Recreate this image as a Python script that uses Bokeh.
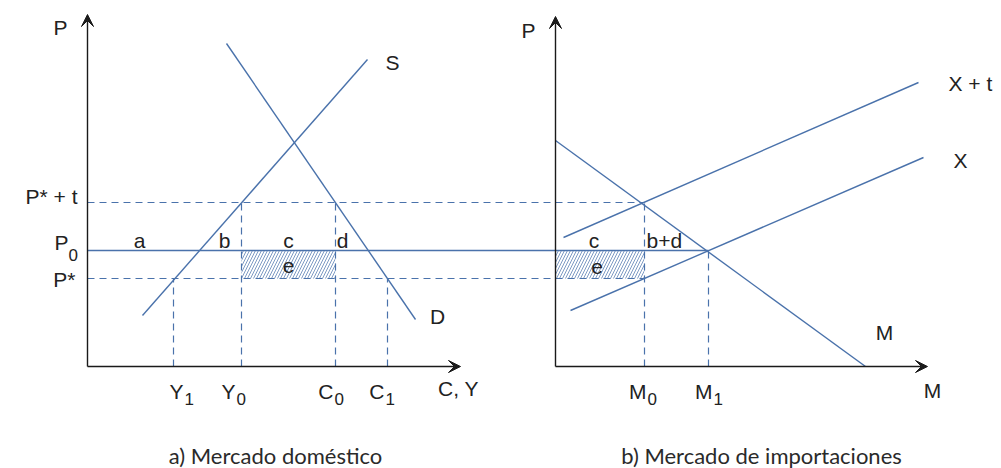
from bokeh.plotting import figure
from bokeh.models import Range1d, Arrow, VeeHead
from bokeh.core.properties import value
from bokeh.embed import file_html
from bokeh.resources import INLINE

# ---------------- data ----------------
# shared price levels
P_star = 88
P_0 = 116
P_star_t = 164

# a) domestic market: supply and demand segments (quantity, price)
supply_q = [55, 280]
supply_p = [51, 307]
demand_q = [139, 328]
demand_p = [323, 47]
Y1, Y0, C0, C1 = 86, 154, 248, 300

# b) import market: import demand M, export supply X and X + t
imp_m = [0, 310]
imp_p = [226, 0]
xt_m = [8, 363]
xt_p = [129, 284]
x_m = [15, 368]
x_p = [56, 209]
M0, M1 = 89, 153

left_ticks = [Y1, Y0, C0, C1]
left_tick_main = ["Y", "Y", "C", "C"]
left_tick_sub = ["1", "0", "0", "1"]
right_ticks = [M0, M1]
right_tick_main = ["M", "M"]
right_tick_sub = ["0", "1"]

caption_a = "a) Mercado doméstico"
caption_b = "b) Mercado de importaciones"

# ---------------- layout ----------------
R0 = 468          # horizontal origin of the right panel
XLEN = 373        # x axis length
YLEN = 352        # y axis length

BLUE = "#4a72ab"
BLACK = "#1a1a1a"
FONT = value("Liberation Sans")
DASH = "7 5"

p = figure(width=1001, height=468, x_range=Range1d(-87, 914), y_range=Range1d(-102, 366),
           output_backend="svg", toolbar_location=None, min_border=0,
           x_axis_type=None, y_axis_type=None)
p.grid.visible = False
p.outline_line_color = None
p.background_fill_color = "white"

# hatched areas (e)
p.quad(left=[Y0, R0], right=[C0, R0 + M0], bottom=[P_star, P_star], top=[P_0, P_0],
       fill_color=None, line_color=None, hatch_pattern="/", hatch_color=BLUE,
       hatch_scale=6, hatch_weight=0.8, hatch_alpha=0.9)

# horizontal reference lines
p.line([0, R0 + M0], [P_star_t, P_star_t], line_color=BLUE, line_width=1.2, line_dash=DASH)
p.line([0, R0 + M0], [P_star, P_star], line_color=BLUE, line_width=1.2, line_dash=DASH)
p.line([0, R0 + M1], [P_0, P_0], line_color=BLUE, line_width=1.3)

# vertical reference lines
for xv, top in [(Y1, P_star), (Y0, P_star_t), (C0, P_star_t), (C1, P_star),
                (R0 + M0, P_star_t), (R0 + M1, P_0)]:
    p.line([xv, xv], [0, top], line_color=BLUE, line_width=1.2, line_dash=DASH)

# curves
p.line(supply_q, supply_p, line_color=BLUE, line_width=1.4)
p.line(demand_q, demand_p, line_color=BLUE, line_width=1.4)
p.line([R0 + v for v in imp_m], imp_p, line_color=BLUE, line_width=1.4)
p.line([R0 + v for v in xt_m], xt_p, line_color=BLUE, line_width=1.4)
p.line([R0 + v for v in x_m], x_p, line_color=BLUE, line_width=1.4)

# axes with arrows
for xs, ys, xe, ye in [(0, 0, XLEN, 0), (0, 0, 0, YLEN),
                       (R0, 0, R0 + XLEN - 1, 0), (R0, 0, R0, YLEN - 2)]:
    p.add_layout(Arrow(end=VeeHead(size=12, fill_color=BLACK, line_color=BLACK, line_width=1),
                       x_start=xs, y_start=ys, x_end=xe, y_end=ye,
                       line_color=BLACK, line_width=1.4))

def txt(x, y, s, size="21px", align="center", baseline="middle", font=FONT, color="#222222"):
    p.text(x=[x], y=[y], text=[s], text_font=font, text_font_size=size,
           text_align=align, text_baseline=baseline, text_color=color)

# axis titles and curve names
txt(-27, 339, "P")
txt(R0 - 27, 336, "P")
txt(305, 304, "S")
txt(350, 50, "D")
txt(R0 + 393, 283, "X + t", align="left")
txt(R0 + 405, 206, "X")
txt(R0 + 329, 34, "M")
txt(371, -22, "C, Y")
txt(R0 + 377, -24, "M")

# price labels
txt(-10, P_star_t + 6, "P* + t", align="right")
txt(-19, P_0 + 8, "P", align="right")
txt(-19, P_0 - 4, "0", size="17px", align="left")
txt(-12, P_star - 1, "P*", align="right")

# area labels
row = P_0 + 10
txt(52, row, "a")
txt(137, row, "b")
txt((Y0 + C0) / 2, row, "c")
txt(C0 + 7, row, "d")
txt((Y0 + C0) / 2, (P_star + P_0) / 2 - 1, "e")
txt(R0 + M0 / 2 - 6, row, "c")
txt(R0 + M0 + 2, row, "b+d", align="left")
txt(R0 + M0 / 2 - 3, (P_star + P_0) / 2 - 2, "e")

# quantity tick labels with subscripts
left_dx = [10, -6, -2, -3]
for t, m, s, dx in zip(left_ticks, left_tick_main, left_tick_sub, left_dx):
    txt(t + dx, -25, m, align="right")
    txt(t + dx + 1, -32, s, size="17px", align="left")
right_dx = [2, 4]
for t, m, s, dx in zip(right_ticks, right_tick_main, right_tick_sub, right_dx):
    txt(R0 + t + dx, -25, m, align="right")
    txt(R0 + t + dx + 1, -32, s, size="17px", align="left")

# captions
txt(188, -89, caption_a, size="22px", font=value("Lato"), color="#2a2a2a")
txt(R0 + 206, -89, caption_b, size="22px", font=value("Lato"), color="#2a2a2a")

open("out.html", "w").write(file_html(p, INLINE))
